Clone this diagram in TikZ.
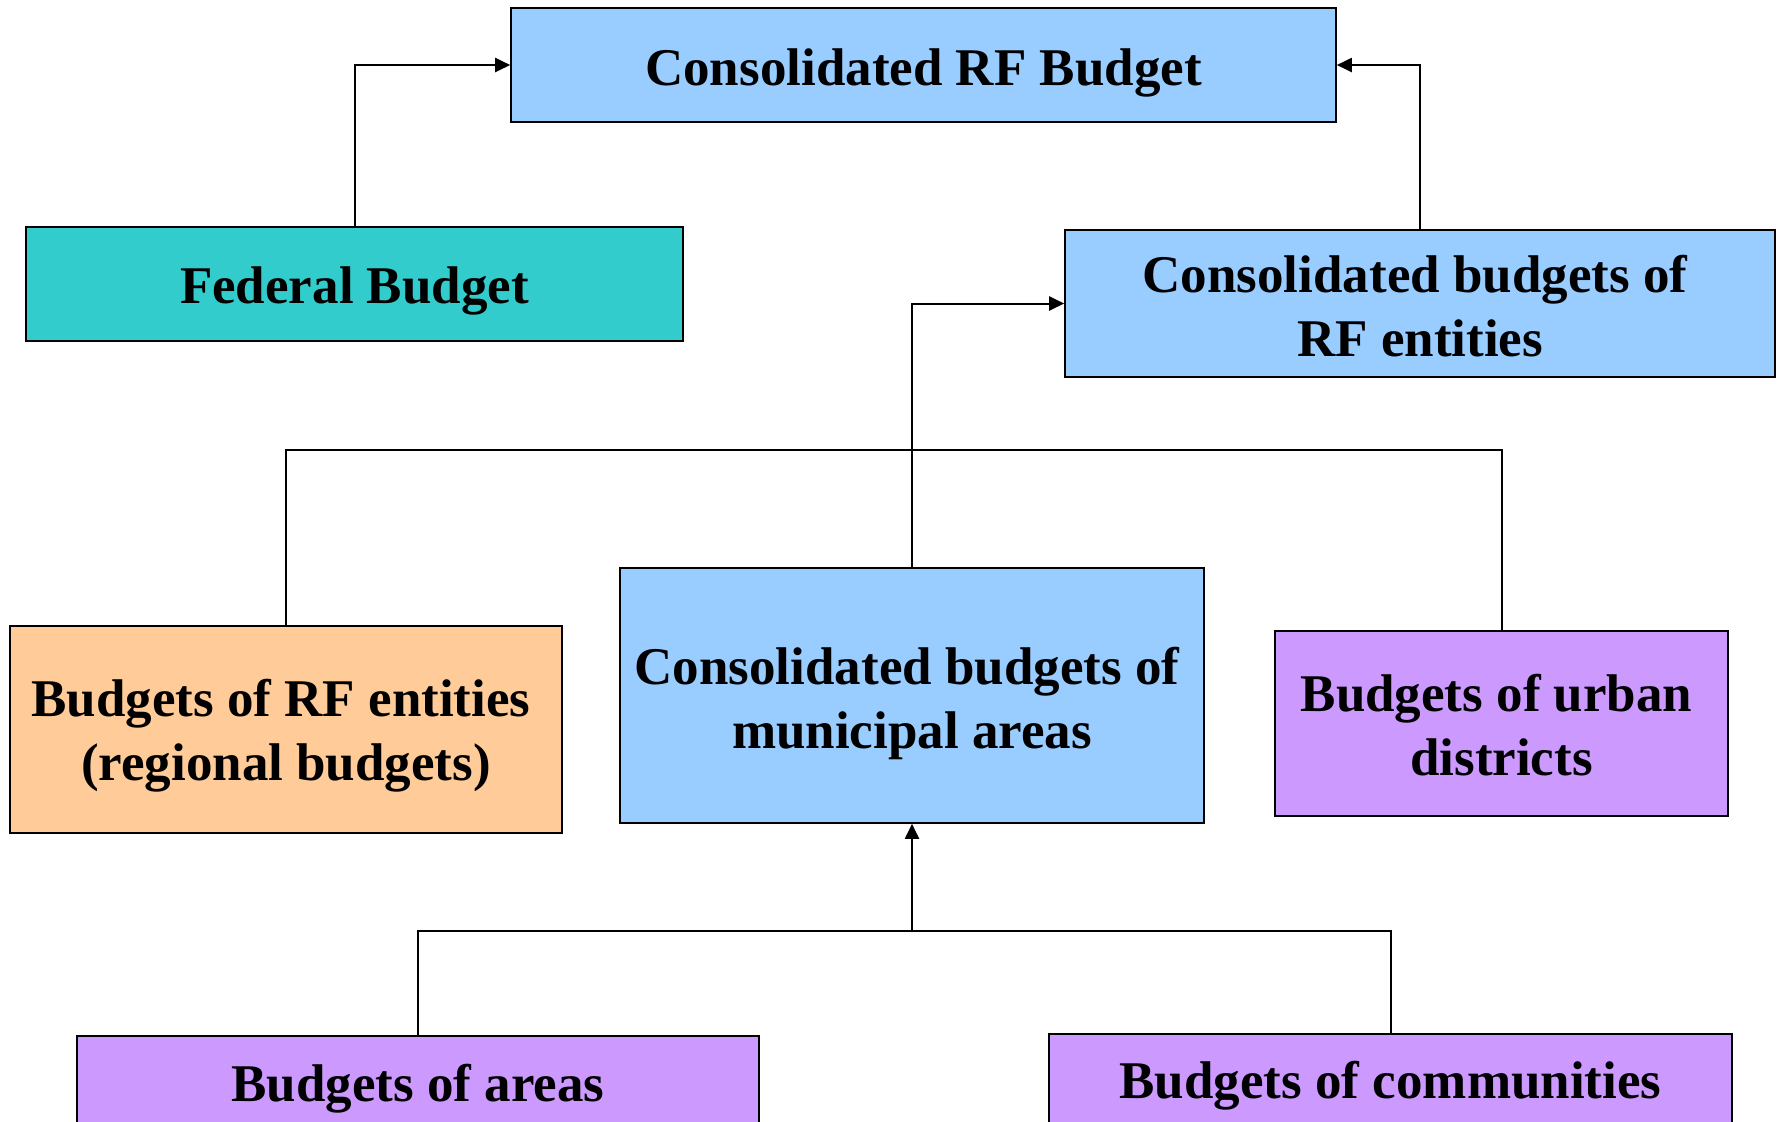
\documentclass[tikz,border=0pt]{standalone}
\usepackage{fontspec}
\setmainfont{Liberation Serif}
\usetikzlibrary{arrows.meta}

\definecolor{skyblue}{HTML}{99CCFF}
\definecolor{tealbox}{HTML}{33CCCC}
\definecolor{peach}{HTML}{FFCC99}
\definecolor{lilac}{HTML}{CC99FF}

% one line of text, set a little lower in its box
\newcommand{\low}[2]{\raisebox{-#1}[\height][\depth]{#2}}

\tikzset{
	box/.style = {draw, line width=0.8pt, inner sep=0pt, align=center,
		font=\fontsize{26.5}{32}\selectfont\bfseries},
	conn/.style = {line width=1pt, -{Triangle[length=7.5pt, width=7pt]}},
	bus/.style = {line width=1pt}
}

\begin{document}
\begin{tikzpicture}[x=0.5pt, y=-0.5pt]
	\useasboundingbox (0,0) rectangle (1777,1121);
	\clip (0,0) rectangle (1777,1121);

	\node[box, fill=skyblue, minimum width=412.5pt, minimum height=57pt] (top) at (923.5,65) {\low{4pt}{Consolidated RF Budget}};
	\node[box, fill=tealbox, minimum width=328.5pt, minimum height=57pt] (federal) at (354.5,284) {\low{3.4pt}{Federal Budget}};
	\node[box, fill=skyblue, minimum width=355pt, minimum height=73.5pt] (entities) at (1420,303.5) {\low{1.5pt}{Consolidated budgets of\kern5pt}\\\low{1.5pt}{RF entities}};

	\node[box, fill=peach, minimum width=276pt, minimum height=103.5pt] (regional) at (286,729.5) {\low{3.1pt}{Budgets of RF entities\kern5pt}\\\low{3.1pt}{(regional budgets)}};
	\node[box, fill=skyblue, minimum width=292pt, minimum height=127.5pt] (municipal) at (912,695.5) {\low{4pt}{Consolidated budgets of\kern5pt}\\\low{4pt}{municipal areas}};
	\node[box, fill=lilac, minimum width=226.5pt, minimum height=92.5pt] (urban) at (1501.5,723.5) {\low{0.9pt}{Budgets of urban\kern5pt}\\\low{0.9pt}{districts}};

	\node[box, fill=lilac, minimum width=341pt, minimum height=49pt] (areas) at (418,1085) {\low{1.7pt}{Budgets of areas}};
	\node[box, fill=lilac, minimum width=341.5pt, minimum height=46pt] (communities) at (1390.5,1080) {\low{2.8pt}{Budgets of communities}};

	\coordinate (upperbus) at (912,450);
	\coordinate (lowerbus) at (912,931);

	% links to the consolidated budget
	\draw[conn] (federal.north) |- (top.west);
	\draw[conn] (entities.north) |- (top.east);
	\draw[conn] (municipal.north) |- (entities.west);

	\draw[bus] (regional.north) |- (upperbus) -| (urban.north);

	\draw[bus] (areas.north) |- (lowerbus) -| (communities.north);
	\draw[conn] (lowerbus) -- (municipal.south);
\end{tikzpicture}
\end{document}
